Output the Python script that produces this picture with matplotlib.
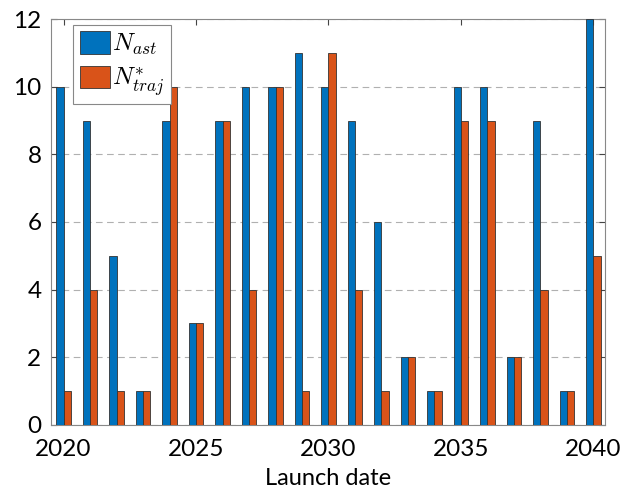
import numpy as np
import matplotlib
matplotlib.use('Agg')
import matplotlib.pyplot as plt

# Launch years and counts per year
years = np.arange(2020, 2041)
n_ast = [10, 9, 5, 1, 9, 3, 9, 10, 10, 11, 10, 9, 6, 2, 1, 10, 10, 2, 9, 1, 12]
n_traj = [1, 4, 1, 1, 10, 3, 9, 4, 10, 1, 11, 4, 1, 2, 1, 9, 9, 2, 4, 1, 5]

plt.rcParams['mathtext.fontset'] = 'cm'
plt.rcParams['font.family'] = ['Lato', 'DejaVu Sans']

fig = plt.figure(figsize = (6.24, 4.90), dpi = 100)
ax = fig.add_axes([0.082, 0.133, 0.888, 0.828])

w = 0.27
ax.bar(years - w / 2, n_ast, w, color = '#0072BD', edgecolor = '#333333',
       linewidth = 0.6, label = r'$N_{ast}$', zorder = 3)
ax.bar(years + w / 2, n_traj, w, color = '#D95319', edgecolor = '#333333',
       linewidth = 0.6, label = r'$N^{*}_{traj}$', zorder = 3)

ax.set_xlim(2019.53, 2040.45)
ax.set_ylim(0, 12)
ax.set_xticks([2020, 2025, 2030, 2035, 2040])
ax.set_yticks(range(0, 13, 2))
ax.yaxis.grid(True, linestyle = (0, (6, 4)), color = '#b0b0b0', linewidth = 0.8, zorder = 0)

ax.tick_params(direction = 'in', top = True, right = True, labelsize = 17.5,
               length = 4, color = '#444444', pad = 7)
ax.tick_params(axis = 'x', pad = 10)
for s in ax.spines.values():
    s.set_color('#888888')
    s.set_linewidth(0.8)

ax.set_xlabel('Launch date', fontsize = 17, labelpad = 6)

leg = ax.legend(loc = 'upper left', bbox_to_anchor = (0.04, 0.985), fontsize = 18,
                fancybox = False, edgecolor = '#888888', framealpha = 1,
                handlelength = 1.2, handleheight = 1.0, borderpad = 0.25,
                labelspacing = 0.3, handletextpad = 0.1, borderaxespad = 0)
leg.get_frame().set_linewidth(0.8)

plt.savefig('out.png', dpi = 100)
